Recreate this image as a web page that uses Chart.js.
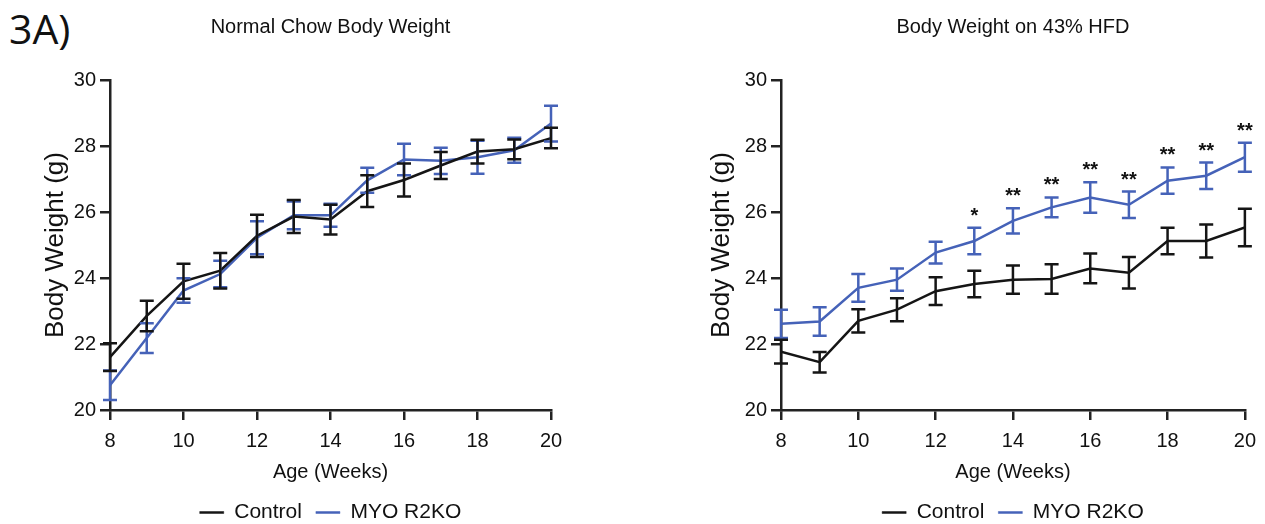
<!DOCTYPE html>
<html><head><meta charset="utf-8">
<script src="https://cdn.jsdelivr.net/npm/chart.js@4/dist/chart.umd.min.js"></script>
<style>
html,body{margin:0;padding:0;background:#fff;width:1265px;height:524px;overflow:hidden}
#fig{position:absolute;left:9px;top:8px;font-family:"Open Sans",sans-serif;font-size:41px;line-height:40px;color:#111}
.box{position:absolute;top:0;height:533px}
</style></head><body>
<div id="fig">3A)</div>
<div class="box" style="left:0;width:632px"><canvas id="c1"></canvas></div>
<div class="box" style="left:632px;width:633px"><canvas id="c2"></canvas></div>
<script>
// ---- data ----
const weeks = [8, 9, 10, 11, 12, 13, 14, 15, 16, 17, 18, 19, 20];
const seriesNames = ['Control', 'MYO R2KO'];
const chartTitles = ['Normal Chow Body Weight', 'Body Weight on 43% HFD'];
const xTitle = 'Age (Weeks)';
const yTitle = 'Body Weight (g)';

const chowControl    = [21.6, 22.85, 23.9, 24.22, 25.28, 25.86, 25.77, 26.63, 26.97, 27.41, 27.83, 27.9, 28.24];
const chowControlErr = [0.42, 0.46, 0.53, 0.54, 0.64, 0.5, 0.45, 0.48, 0.5, 0.41, 0.36, 0.3, 0.31];
const chowKO         = [20.75, 22.18, 23.62, 24.12, 25.22, 25.9, 25.9, 26.96, 27.59, 27.55, 27.66, 27.87, 28.68];
const chowKOErr      = [0.45, 0.45, 0.37, 0.4, 0.5, 0.42, 0.35, 0.38, 0.48, 0.4, 0.5, 0.38, 0.54];

const hfdControl     = [21.77, 21.45, 22.7, 23.04, 23.6, 23.82, 23.95, 23.97, 24.29, 24.16, 25.12, 25.12, 25.53];
const hfdControlErr  = [0.36, 0.31, 0.35, 0.35, 0.42, 0.4, 0.43, 0.45, 0.45, 0.48, 0.4, 0.5, 0.57];
const hfdKO          = [22.61, 22.68, 23.7, 23.95, 24.77, 25.12, 25.73, 26.14, 26.44, 26.22, 26.95, 27.1, 27.66];
const hfdKOErr       = [0.43, 0.43, 0.42, 0.34, 0.33, 0.4, 0.38, 0.3, 0.46, 0.4, 0.4, 0.4, 0.44];
const hfdSig         = ['', '', '', '', '', '*', '**', '**', '**', '**', '**', '**', '**'];

const colors = ['#151515', '#4562b8'];
const FONT = '"Liberation Sans", Arial, sans-serif';

const errorBarPlugin = {
  id: 'errorBars',
  afterDatasetsDraw(chart, args, opts) {
    const ctx = chart.ctx, xs = chart.scales.x, ys = chart.scales.y;
    ctx.save();
    for (let d = chart.data.datasets.length - 1; d >= 0; d--) {
      const ds = chart.data.datasets[d];
      const errs = opts.errs[d];
      ctx.strokeStyle = ds.borderColor;
      ctx.lineWidth = 2.5;
      ds.data.forEach((p, i) => {
        const x = xs.getPixelForValue(p.x);
        const yt = ys.getPixelForValue(p.y + errs[i]);
        const yb = ys.getPixelForValue(p.y - errs[i]);
        ctx.beginPath();
        ctx.moveTo(x, yt); ctx.lineTo(x, yb);
        ctx.moveTo(x - 7, yt); ctx.lineTo(x + 7, yt);
        ctx.moveTo(x - 7, yb); ctx.lineTo(x + 7, yb);
        ctx.stroke();
      });
    }
    if (opts.sig) {
      const ds = chart.data.datasets[opts.sigIndex];
      const errs = opts.errs[opts.sigIndex];
      ctx.fillStyle = '#111';
      ctx.font = 'bold 20px ' + FONT;
      ctx.textAlign = 'center';
      ctx.textBaseline = 'alphabetic';
      ds.data.forEach((p, i) => {
        if (!opts.sig[i]) return;
        const x = xs.getPixelForValue(p.x);
        const y = ys.getPixelForValue(p.y + errs[i]);
        ctx.fillText(opts.sig[i], x, y - 6);
      });
    }
    ctx.restore();
  }
};

function makeChart(id, title, ctrl, ctrlErr, ko, koErr, sig, yWidth, yTitlePad, rightPad) {
  const pts = arr => weeks.map((w, i) => ({x: w, y: arr[i]}));
  return new Chart(document.getElementById(id), {
    type: 'line',
    data: {
      datasets: [
        {label: seriesNames[0], data: pts(ctrl), borderColor: colors[0], backgroundColor: colors[0], borderWidth: 2.5, pointRadius: 0, tension: 0},
        {label: seriesNames[1], data: pts(ko), borderColor: colors[1], backgroundColor: colors[1], borderWidth: 2.5, pointRadius: 0, tension: 0}
      ]
    },
    options: {
      responsive: true, maintainAspectRatio: false, animation: false,
      layout: {padding: {left: 0, right: rightPad, top: 0, bottom: 0}},
      plugins: {
        tooltip: {enabled: false},
        title: {display: true, text: title, fullSize: false, color: '#111',
                font: {family: FONT, size: 20, weight: 'normal'}, padding: {top: 15, bottom: 41}},
        legend: {position: 'bottom', fullSize: false,
                 labels: {color: '#111', font: {family: FONT, size: 21}, boxWidth: 24, boxHeight: 2, padding: 14,
                   generateLabels(chart) {
                     return Chart.defaults.plugins.legend.labels.generateLabels(chart).map(l => Object.assign(l, {lineWidth: 0.5}));
                   }}},
        errorBars: {errs: [ctrlErr, koErr], sig: sig, sigIndex: 1}
      },
      scales: {
        x: {type: 'linear', min: 8, max: 20,
            ticks: {stepSize: 2, color: '#111', font: {family: FONT, size: 20}, padding: 9, maxRotation: 0},
            grid: {display: true, drawOnChartArea: false, drawTicks: true, tickLength: 10, color: '#222', lineWidth: 2.5},
            border: {display: true, color: '#222', width: 2.5},
            title: {display: true, text: xTitle, color: '#111', font: {family: FONT, size: 20}, padding: {top: 4, bottom: 4}},
            afterFit(s) { s.height = 78; }},
        y: {min: 20, max: 30,
            ticks: {stepSize: 2, color: '#111', font: {family: FONT, size: 20}, padding: 4},
            grid: {display: true, drawOnChartArea: false, drawTicks: true, tickLength: 10, color: '#222', lineWidth: 2.5},
            border: {display: true, color: '#222', width: 2.5},
            title: {display: true, text: yTitle, color: '#111', font: {family: FONT, size: 26}, padding: {top: yTitlePad, bottom: 0}},
            afterFit(s) { s.width = yWidth; }}
      }
    },
    plugins: [errorBarPlugin]
  });
}

makeChart('c1', chartTitles[0], chowControl, chowControlErr, chowKO, chowKOErr, null, 110, 40, 81);
makeChart('c2', chartTitles[1], hfdControl, hfdControlErr, hfdKO, hfdKOErr, hfdSig, 149, 74, 18);
</script>
</body></html>
